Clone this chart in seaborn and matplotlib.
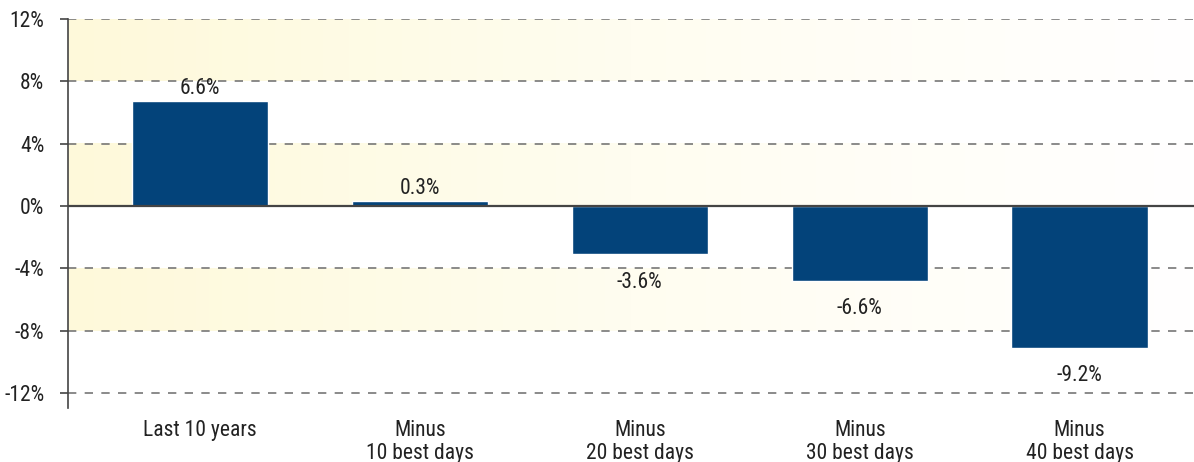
import matplotlib
matplotlib.use("Agg")
from matplotlib import pyplot as plt
from matplotlib.colors import LinearSegmentedColormap
from matplotlib import font_manager
import seaborn as sns
import numpy as np
import pandas as pd

categories = ["Last 10 years", "Minus\n10 best days", "Minus\n20 best days",
              "Minus\n30 best days", "Minus\n40 best days"]
bar_heights = [6.75, 0.3, -3.1, -4.8, -9.1]
bar_labels = ["6.6%", "0.3%", "-3.6%", "-6.6%", "-9.2%"]
yticks = [12, 8, 4, 0, -4, -8, -12]
bands = [(8, 12), (0, 4), (-8, -4)]

data = pd.DataFrame({"period": categories, "ret": bar_heights})

sns.set_style("white")
installed = {f.name for f in font_manager.fontManager.ttflist}
fams = [f for f in ["DejaVu Sans Condensed", "Liberation Sans Narrow", "Roboto Condensed"]
        if f in installed]
plt.rcParams["font.family"] = fams + ["DejaVu Sans"]
if not fams:
    plt.rcParams["font.stretch"] = "condensed"

fs = 15.5
fig = plt.figure(figsize=(11.94, 4.62), dpi=100)
ax = fig.add_axes([68 / 1194, 54 / 462, 1 - 68 / 1194, (408 - 19) / 462])

sns.barplot(data=data, x="period", y="ret", color="#03437A", width=0.62,
            saturation=1, ax=ax, zorder=3)

xlim = (-0.6, 4.52)
ylim = (-12.95, 12)

# yellow bands fading to white on the right
cmap = LinearSegmentedColormap.from_list("band", ["#FEF9DA", "#FFFDF0", "#FFFFFF"])
grad = np.linspace(0, 1, 256).reshape(1, -1)
for lo, hi in bands:
    ax.imshow(grad, cmap=cmap, extent=(xlim[0], xlim[1], lo, hi),
              aspect="auto", zorder=0)

for t in yticks:
    if t != 0:
        ax.axhline(t, color="#777777", lw=1.2, ls=(0, (5, 5)), zorder=1)
ax.axhline(0, color="#444444", lw=1.6, zorder=4)

for i, (h, lab) in enumerate(zip(bar_heights, bar_labels)):
    if h >= 0:
        ax.text(i, h + 0.15, lab, ha="center", va="bottom", fontsize=fs, color="#222222")
    else:
        ax.text(i, h - 1.1, lab, ha="center", va="top", fontsize=fs, color="#222222")

ax.set_xlim(*xlim)
ax.set_ylim(*ylim)
ax.set_yticks(yticks)
ax.set_yticklabels([f"{t}%" for t in yticks])
ax.set_xlabel("")
ax.set_ylabel("")
for s in ["top", "right", "bottom"]:
    ax.spines[s].set_visible(False)
ax.spines["left"].set_color("#444444")
ax.spines["left"].set_linewidth(1.2)
ax.tick_params(axis="y", left=True, length=6, width=1.2, color="#444444",
               labelsize=fs, labelcolor="#222222", pad=11)
ax.tick_params(axis="x", bottom=False, labelsize=fs, labelcolor="#222222", pad=5)
for lbl in ax.get_xticklabels():
    lbl.set_linespacing(1.15)

fig.savefig("out.png", dpi=100)
